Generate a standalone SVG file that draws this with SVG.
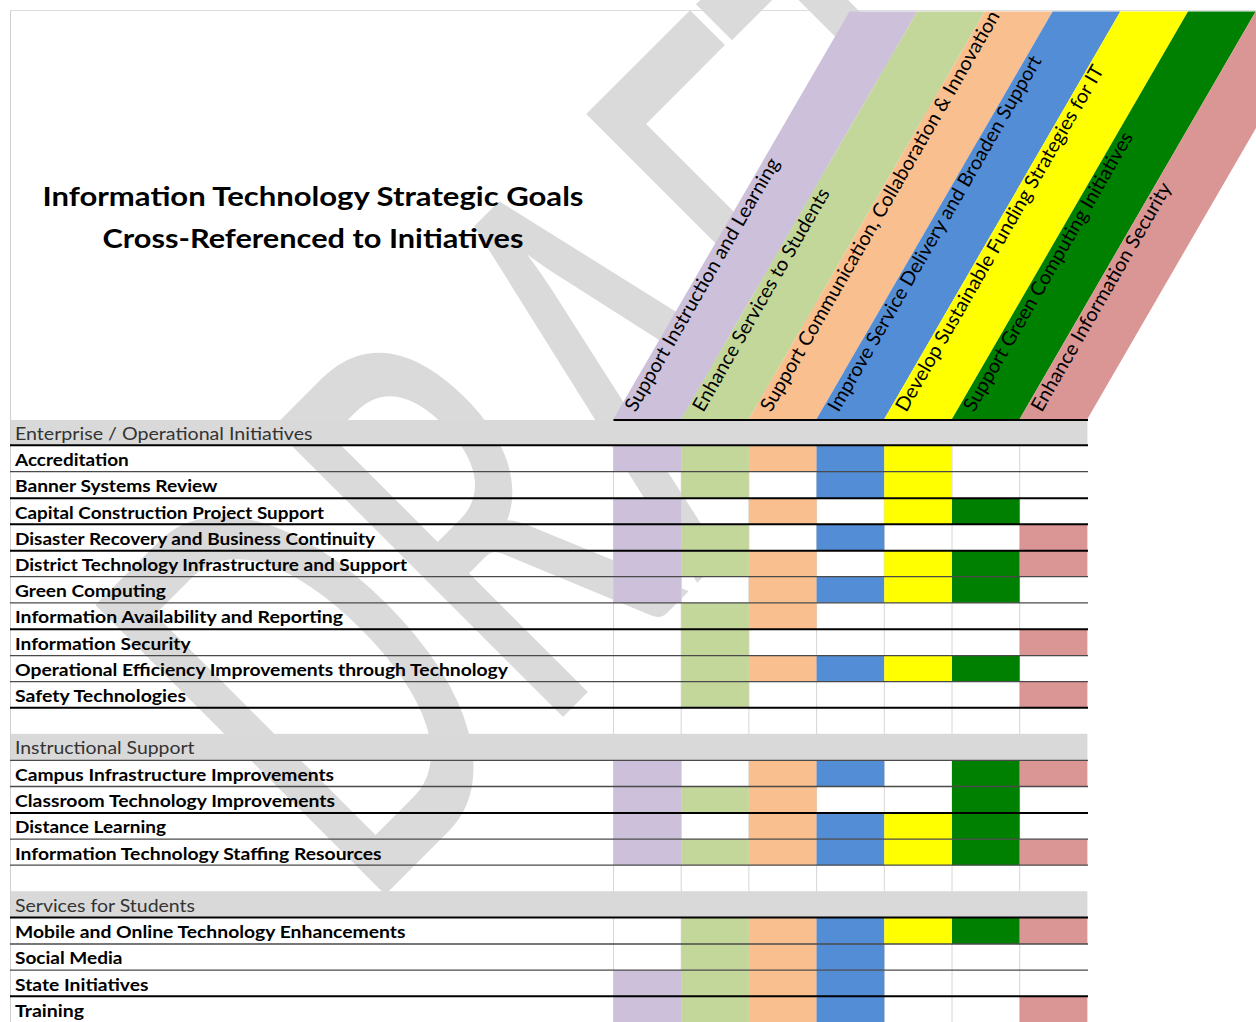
<svg xmlns="http://www.w3.org/2000/svg" width="1256" height="1022" viewBox="0 0 1256 1022">
<style>
.wm{font-family:Lato,"Open Sans",sans-serif;font-weight:500;fill:#dadada}
.ttl{font-family:Lato,"Liberation Sans",sans-serif;font-weight:700;font-size:26px;fill:#000}
.hd{font-family:Lato,"Liberation Sans",sans-serif;font-size:19.5px;fill:#000}
.lb{font-family:Lato,"Liberation Sans",sans-serif;font-weight:700;font-size:17px;fill:#000}
.sec{font-family:Lato,"Liberation Sans",sans-serif;font-size:17.5px;fill:#333}
.grid{stroke:#d6d6d6;stroke-width:1;fill:none}
.lk{stroke:#000;stroke-width:2;fill:none}
.lg{stroke:#4a4a4a;stroke-width:1.3;fill:none}
.gray{fill:#d9d9d9}
.c1{fill:#ccc0da}.c2{fill:#c4d79b}.c3{fill:#fabf8f}.c4{fill:#538dd5}.c5{fill:#ffff00}.c6{fill:#008000}.c7{fill:#da9694}
</style>
<rect x="0" y="0" width="1256" height="1022" fill="#fff"/>
<g id="frame">
<line x1="10.5" y1="10.5" x2="1256" y2="10.5" stroke="#dcdcdc" stroke-width="1"/>
<line x1="10.5" y1="10.5" x2="10.5" y2="1022" stroke="#d0d0d0" stroke-width="1"/>
</g>
<g id="gridlines" class="grid">
<line x1="613.5" y1="420" x2="613.5" y2="1022"/>
<line x1="681.2" y1="420" x2="681.2" y2="1022"/>
<line x1="748.9" y1="420" x2="748.9" y2="1022"/>
<line x1="816.6" y1="420" x2="816.6" y2="1022"/>
<line x1="884.3" y1="420" x2="884.3" y2="1022"/>
<line x1="952" y1="420" x2="952" y2="1022"/>
<line x1="1019.7" y1="420" x2="1019.7" y2="1022"/>
</g>
<g id="watermark">
<text class="wm" font-size="330" text-anchor="middle" transform="translate(640 640) rotate(-45) scale(1 1.73)" x="-264 -34 193 398 582" y="0">DRAFT</text>
</g>
<g id="sections">
<rect class="gray" x="11" y="420" width="1076.4" height="25.3"/>
<rect class="gray" x="11" y="733.8" width="1076.4" height="26.5"/>
<rect class="gray" x="11" y="891.2" width="1076.4" height="26.4"/>
</g>
<g id="goal-headers">
<g id="goal1"><polygon class="c1" points="613.5,419 681.2,419 917.2,11.5 849.5,11.5"/><text class="hd" x="635.5" y="413" textLength="289" lengthAdjust="spacingAndGlyphs" transform="rotate(-60 635.5 413)">Support Instruction and Learning</text></g>
<g id="goal2"><polygon class="c2" points="681.2,419 748.9,419 984.9,11.5 917.2,11.5"/><text class="hd" x="703.2" y="413" textLength="254" lengthAdjust="spacingAndGlyphs" transform="rotate(-60 703.2 413)">Enhance Services to Students</text></g>
<g id="goal3"><polygon class="c3" points="748.9,419 816.6,419 1052.6,11.5 984.9,11.5"/><text class="hd" x="770.9" y="413" textLength="459" lengthAdjust="spacingAndGlyphs" transform="rotate(-60 770.9 413)">Support Communication, Collaboration &amp; Innovation</text></g>
<g id="goal4"><polygon class="c4" points="816.6,419 884.3,419 1120.3,11.5 1052.6,11.5"/><text class="hd" x="838.6" y="413" textLength="407" lengthAdjust="spacingAndGlyphs" transform="rotate(-60 838.6 413)">Improve Service Delivery and Broaden Support</text></g>
<g id="goal5"><polygon class="c5" points="884.3,419 952,419 1188,11.5 1120.3,11.5"/><text class="hd" x="906.3" y="413" textLength="396" lengthAdjust="spacingAndGlyphs" transform="rotate(-60 906.3 413)">Develop Sustainable Funding Strategies for IT</text></g>
<g id="goal6"><polygon class="c6" points="952,419 1019.7,419 1255.7,11.5 1188,11.5"/><text class="hd" x="974" y="413" textLength="319" lengthAdjust="spacingAndGlyphs" transform="rotate(-60 974 413)">Support Green Computing Initiatives</text></g>
<g id="goal7"><polygon class="c7" points="1019.7,419 1087.4,419 1323.4,11.5 1255.7,11.5"/><text class="hd" x="1041.7" y="413" textLength="260.6" lengthAdjust="spacingAndGlyphs" transform="rotate(-60 1041.7 413)">Enhance Information Security</text></g>
</g>
<g id="cells">
<g id="r1"><rect class="c1" x="613.5" y="445.3" width="67.7" height="26.4"/><rect class="c2" x="681.2" y="445.3" width="67.7" height="26.4"/><rect class="c3" x="748.9" y="445.3" width="67.7" height="26.4"/><rect class="c4" x="816.6" y="445.3" width="67.7" height="26.4"/><rect class="c5" x="884.3" y="445.3" width="67.7" height="26.4"/></g>
<g id="r2"><rect class="c2" x="681.2" y="471.7" width="67.7" height="26.6"/><rect class="c4" x="816.6" y="471.7" width="67.7" height="26.6"/><rect class="c5" x="884.3" y="471.7" width="67.7" height="26.6"/></g>
<g id="r3"><rect class="c1" x="613.5" y="498.3" width="67.7" height="26"/><rect class="c3" x="748.9" y="498.3" width="67.7" height="26"/><rect class="c5" x="884.3" y="498.3" width="67.7" height="26"/><rect class="c6" x="952" y="498.3" width="67.7" height="26"/></g>
<g id="r4"><rect class="c1" x="613.5" y="524.3" width="67.7" height="26.4"/><rect class="c2" x="681.2" y="524.3" width="67.7" height="26.4"/><rect class="c4" x="816.6" y="524.3" width="67.7" height="26.4"/><rect class="c7" x="1019.7" y="524.3" width="67.7" height="26.4"/></g>
<g id="r5"><rect class="c1" x="613.5" y="550.7" width="67.7" height="26"/><rect class="c2" x="681.2" y="550.7" width="67.7" height="26"/><rect class="c3" x="748.9" y="550.7" width="67.7" height="26"/><rect class="c5" x="884.3" y="550.7" width="67.7" height="26"/><rect class="c6" x="952" y="550.7" width="67.7" height="26"/><rect class="c7" x="1019.7" y="550.7" width="67.7" height="26"/></g>
<g id="r6"><rect class="c1" x="613.5" y="576.7" width="67.7" height="26.1"/><rect class="c3" x="748.9" y="576.7" width="67.7" height="26.1"/><rect class="c4" x="816.6" y="576.7" width="67.7" height="26.1"/><rect class="c5" x="884.3" y="576.7" width="67.7" height="26.1"/><rect class="c6" x="952" y="576.7" width="67.7" height="26.1"/></g>
<g id="r7"><rect class="c2" x="681.2" y="602.8" width="67.7" height="26.4"/><rect class="c3" x="748.9" y="602.8" width="67.7" height="26.4"/></g>
<g id="r8"><rect class="c2" x="681.2" y="629.2" width="67.7" height="26.4"/><rect class="c7" x="1019.7" y="629.2" width="67.7" height="26.4"/></g>
<g id="r9"><rect class="c2" x="681.2" y="655.6" width="67.7" height="26.1"/><rect class="c3" x="748.9" y="655.6" width="67.7" height="26.1"/><rect class="c4" x="816.6" y="655.6" width="67.7" height="26.1"/><rect class="c5" x="884.3" y="655.6" width="67.7" height="26.1"/><rect class="c6" x="952" y="655.6" width="67.7" height="26.1"/></g>
<g id="r10"><rect class="c2" x="681.2" y="681.7" width="67.7" height="26.1"/><rect class="c7" x="1019.7" y="681.7" width="67.7" height="26.1"/></g>
<g id="r13"><rect class="c1" x="613.5" y="760.3" width="67.7" height="26.2"/><rect class="c3" x="748.9" y="760.3" width="67.7" height="26.2"/><rect class="c4" x="816.6" y="760.3" width="67.7" height="26.2"/><rect class="c6" x="952" y="760.3" width="67.7" height="26.2"/><rect class="c7" x="1019.7" y="760.3" width="67.7" height="26.2"/></g>
<g id="r14"><rect class="c1" x="613.5" y="786.5" width="67.7" height="26.5"/><rect class="c2" x="681.2" y="786.5" width="67.7" height="26.5"/><rect class="c3" x="748.9" y="786.5" width="67.7" height="26.5"/><rect class="c6" x="952" y="786.5" width="67.7" height="26.5"/></g>
<g id="r15"><rect class="c1" x="613.5" y="813" width="67.7" height="26.2"/><rect class="c3" x="748.9" y="813" width="67.7" height="26.2"/><rect class="c4" x="816.6" y="813" width="67.7" height="26.2"/><rect class="c5" x="884.3" y="813" width="67.7" height="26.2"/><rect class="c6" x="952" y="813" width="67.7" height="26.2"/></g>
<g id="r16"><rect class="c1" x="613.5" y="839.2" width="67.7" height="26"/><rect class="c2" x="681.2" y="839.2" width="67.7" height="26"/><rect class="c3" x="748.9" y="839.2" width="67.7" height="26"/><rect class="c4" x="816.6" y="839.2" width="67.7" height="26"/><rect class="c5" x="884.3" y="839.2" width="67.7" height="26"/><rect class="c6" x="952" y="839.2" width="67.7" height="26"/><rect class="c7" x="1019.7" y="839.2" width="67.7" height="26"/></g>
<g id="r19"><rect class="c2" x="681.2" y="917.6" width="67.7" height="26.4"/><rect class="c3" x="748.9" y="917.6" width="67.7" height="26.4"/><rect class="c4" x="816.6" y="917.6" width="67.7" height="26.4"/><rect class="c5" x="884.3" y="917.6" width="67.7" height="26.4"/><rect class="c6" x="952" y="917.6" width="67.7" height="26.4"/><rect class="c7" x="1019.7" y="917.6" width="67.7" height="26.4"/></g>
<g id="r20"><rect class="c2" x="681.2" y="944" width="67.7" height="26.2"/><rect class="c3" x="748.9" y="944" width="67.7" height="26.2"/><rect class="c4" x="816.6" y="944" width="67.7" height="26.2"/></g>
<g id="r21"><rect class="c1" x="613.5" y="970.2" width="67.7" height="26.1"/><rect class="c2" x="681.2" y="970.2" width="67.7" height="26.1"/><rect class="c3" x="748.9" y="970.2" width="67.7" height="26.1"/><rect class="c4" x="816.6" y="970.2" width="67.7" height="26.1"/></g>
<g id="r22"><rect class="c1" x="613.5" y="996.3" width="67.7" height="26"/><rect class="c2" x="681.2" y="996.3" width="67.7" height="26"/><rect class="c3" x="748.9" y="996.3" width="67.7" height="26"/><rect class="c4" x="816.6" y="996.3" width="67.7" height="26"/><rect class="c7" x="1019.7" y="996.3" width="67.7" height="26"/></g>
</g>
<g id="rules">
<line class="lk" x1="613.5" y1="420" x2="1088" y2="420"/>
<line class="lk" x1="10" y1="445.3" x2="1088" y2="445.3"/>
<line class="lg" x1="10" y1="471.7" x2="1088" y2="471.7"/>
<line class="lk" x1="10" y1="498.3" x2="1088" y2="498.3"/>
<line class="lk" x1="10" y1="524.3" x2="1088" y2="524.3"/>
<line class="lk" x1="10" y1="550.7" x2="1088" y2="550.7"/>
<line class="lg" x1="10" y1="576.7" x2="1088" y2="576.7"/>
<line class="lg" x1="10" y1="602.8" x2="1088" y2="602.8"/>
<line class="lk" x1="10" y1="629.2" x2="1088" y2="629.2"/>
<line class="lg" x1="10" y1="655.6" x2="1088" y2="655.6"/>
<line class="lg" x1="10" y1="681.7" x2="1088" y2="681.7"/>
<line class="lk" x1="10" y1="707.8" x2="1088" y2="707.8"/>
<line class="lg" x1="10" y1="760.3" x2="1088" y2="760.3"/>
<line class="lg" x1="10" y1="786.5" x2="1088" y2="786.5"/>
<line class="lk" x1="10" y1="813" x2="1088" y2="813"/>
<line class="lg" x1="10" y1="839.2" x2="1088" y2="839.2"/>
<line class="lg" x1="10" y1="865.2" x2="1088" y2="865.2"/>
<line class="lk" x1="10" y1="917.6" x2="1088" y2="917.6"/>
<line class="lg" x1="10" y1="944" x2="1088" y2="944"/>
<line class="lg" x1="10" y1="970.2" x2="1088" y2="970.2"/>
<line class="lk" x1="10" y1="996.3" x2="1088" y2="996.3"/>
</g>
<g id="title">
<text class="ttl" x="313" y="206" text-anchor="middle" textLength="541" lengthAdjust="spacingAndGlyphs">Information Technology Strategic Goals</text>
<text class="ttl" x="313" y="248" text-anchor="middle" textLength="421" lengthAdjust="spacingAndGlyphs">Cross-Referenced to Initiatives</text>
</g>
<g id="labels">
<text class="sec" x="15" y="440" textLength="297.5" lengthAdjust="spacingAndGlyphs">Enterprise / Operational Initiatives</text>
<text class="lb" x="15" y="466" textLength="113.8" lengthAdjust="spacingAndGlyphs">Accreditation</text>
<text class="lb" x="15" y="492.3" textLength="202.5" lengthAdjust="spacingAndGlyphs">Banner Systems Review</text>
<text class="lb" x="15" y="518.6" textLength="309" lengthAdjust="spacingAndGlyphs">Capital Construction Project Support</text>
<text class="lb" x="15" y="544.8" textLength="360" lengthAdjust="spacingAndGlyphs">Disaster Recovery and Business Continuity</text>
<text class="lb" x="15" y="571.1" textLength="392" lengthAdjust="spacingAndGlyphs">District Technology Infrastructure and Support</text>
<text class="lb" x="15" y="597.2" textLength="151" lengthAdjust="spacingAndGlyphs">Green Computing</text>
<text class="lb" x="15" y="623.4" textLength="328" lengthAdjust="spacingAndGlyphs">Information Availability and Reporting</text>
<text class="lb" x="15" y="649.7" textLength="175.5" lengthAdjust="spacingAndGlyphs">Information Security</text>
<text class="lb" x="15" y="675.9" textLength="493" lengthAdjust="spacingAndGlyphs">Operational Efficiency Improvements through Technology</text>
<text class="lb" x="15" y="702.1" textLength="171" lengthAdjust="spacingAndGlyphs">Safety Technologies</text>
<text class="sec" x="15" y="754" textLength="179.5" lengthAdjust="spacingAndGlyphs">Instructional Support</text>
<text class="lb" x="15" y="780.7" textLength="319" lengthAdjust="spacingAndGlyphs">Campus Infrastructure Improvements</text>
<text class="lb" x="15" y="807" textLength="320" lengthAdjust="spacingAndGlyphs">Classroom Technology Improvements</text>
<text class="lb" x="15" y="833.3" textLength="151" lengthAdjust="spacingAndGlyphs">Distance Learning</text>
<text class="lb" x="15" y="859.5" textLength="366.5" lengthAdjust="spacingAndGlyphs">Information Technology Staffing Resources</text>
<text class="sec" x="15" y="911.5" textLength="180" lengthAdjust="spacingAndGlyphs">Services for Students</text>
<text class="lb" x="15" y="938" textLength="390.5" lengthAdjust="spacingAndGlyphs">Mobile and Online Technology Enhancements</text>
<text class="lb" x="15" y="964.3" textLength="107.5" lengthAdjust="spacingAndGlyphs">Social Media</text>
<text class="lb" x="15" y="990.5" textLength="133.5" lengthAdjust="spacingAndGlyphs">State Initiatives</text>
<text class="lb" x="15" y="1016.8" textLength="69" lengthAdjust="spacingAndGlyphs">Training</text>
</g>
</svg>
